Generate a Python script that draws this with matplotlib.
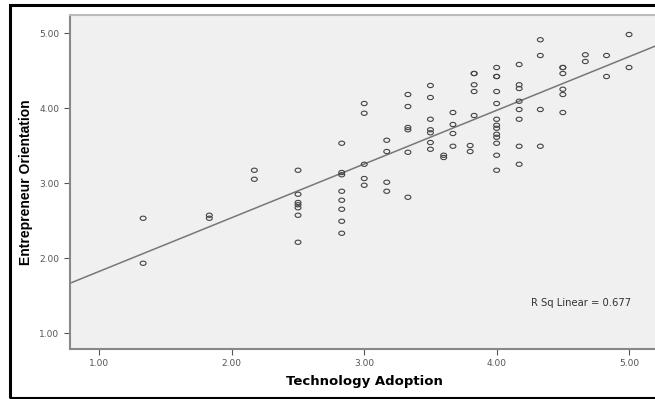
import matplotlib
matplotlib.use('Agg')
import matplotlib.pyplot as plt
import numpy as np
from matplotlib.path import Path
from matplotlib.patches import Rectangle

# Technology Adoption (x) / Entrepreneur Orientation (y)
tech = [1.33, 1.33,
        1.83, 1.83,
        2.17, 2.17,
        2.5, 2.5, 2.5, 2.5, 2.5, 2.5, 2.5,
        2.83, 2.83, 2.83, 2.83, 2.83, 2.83, 2.83, 2.83,
        3.0, 3.0, 3.0, 3.0, 3.0,
        3.17, 3.17, 3.17, 3.17,
        3.33, 3.33, 3.33, 3.33, 3.33, 3.33,
        3.5, 3.5, 3.5, 3.5, 3.5, 3.5, 3.5,
        3.6, 3.6,
        3.67, 3.67, 3.67, 3.67,
        3.8, 3.8,
        3.83, 3.83, 3.83, 3.83, 3.83,
        4.0, 4.0, 4.0, 4.0, 4.0, 4.0, 4.0, 4.0, 4.0, 4.0, 4.0, 4.0, 4.0,
        4.17, 4.17, 4.17, 4.17, 4.17, 4.17, 4.17, 4.17,
        4.33, 4.33, 4.33, 4.33,
        4.5, 4.5, 4.5, 4.5, 4.5, 4.5,
        4.67, 4.67,
        4.83, 4.83,
        5.0, 5.0]
entre = [2.53, 1.93,
         2.57, 2.53,
         3.17, 3.05,
         3.17, 2.85, 2.74, 2.71, 2.67, 2.57, 2.21,
         3.53, 3.14, 3.11, 2.89, 2.77, 2.65, 2.49, 2.33,
         4.06, 3.93, 3.25, 3.06, 2.97,
         3.57, 3.42, 3.01, 2.89,
         4.18, 4.02, 3.74, 3.71, 3.41, 2.81,
         4.30, 4.14, 3.85, 3.71, 3.67, 3.54, 3.45,
         3.37, 3.34,
         3.94, 3.78, 3.66, 3.49,
         3.50, 3.42,
         4.46, 4.46, 4.31, 4.22, 3.90,
         4.54, 4.42, 4.42, 4.22, 4.06, 3.85, 3.77, 3.73, 3.65, 3.61, 3.53, 3.37, 3.17,
         4.58, 4.31, 4.26, 4.09, 3.98, 3.85, 3.49, 3.25,
         4.91, 4.70, 3.98, 3.49,
         4.54, 4.46, 4.25, 4.18, 3.94, 4.54,
         4.71, 4.62,
         4.70, 4.42,
         4.98, 4.54]
r2_label = 'R Sq Linear = 0.677'

x = np.array(tech)
y = np.array(entre)
slope, intercept = np.polyfit(x, y, 1)

fig = plt.figure(figsize=(6.55, 3.99), dpi=100)
plt.rcParams['font.family'] = ['DejaVu Sans']

# outer frame
fig.patches.append(Rectangle((10 / 655, 1.5 / 399), 660 / 655, 392.5 / 399,
                             transform=fig.transFigure, fill=False,
                             edgecolor='black', linewidth=2.2))

ax = fig.add_axes([69.5 / 655, 1 - 349 / 399, 590 / 655, 334 / 399])
ax.set_facecolor('#f0f0f0')
ax.set_xlim(0.774, 5.23)
ax.set_ylim(0.787, 5.24)

# hollow, slightly flattened circles like the SPSS output
circ = Path.unit_circle()
ell = Path(circ.vertices * np.array([1.0, 0.72]), circ.codes)
ax.scatter(x, y, marker=ell, s=18, facecolors='none', edgecolors='#444444',
           linewidths=0.8, zorder=3)

xs = np.array(ax.get_xlim())
ax.plot(xs, intercept + slope * xs, color='#777777', linewidth=1.1, zorder=2)

ax.text(4.26, 1.40, r2_label, fontsize=7.2, color='#333333', va='center', ha='left')

ax.set_xticks([1, 2, 3, 4, 5])
ax.set_xticklabels(['1.00', '2.00', '3.00', '4.00', '5.00'])
ax.set_yticks([1, 2, 3, 4, 5])
ax.set_yticklabels(['1.00', '2.00', '3.00', '4.00', '5.00'])
ax.tick_params(labelsize=6.5, colors='#555555', length=4, width=0.8)

for side in ['left', 'bottom']:
    ax.spines[side].set_color('#888888')
    ax.spines[side].set_linewidth(1.5)
ax.spines['top'].set_color('#bbbbbb')
ax.spines['top'].set_linewidth(1.5)
ax.spines['right'].set_visible(False)

ax.set_xlabel('Technology Adoption', fontsize=9.5, weight='bold', labelpad=5)
ax.set_ylabel('Entrepreneur Orientation', fontsize=10, weight='bold',
              family=['Liberation Sans Narrow', 'Liberation Sans'], labelpad=4)

plt.savefig('out.png', dpi=100, facecolor='white')
